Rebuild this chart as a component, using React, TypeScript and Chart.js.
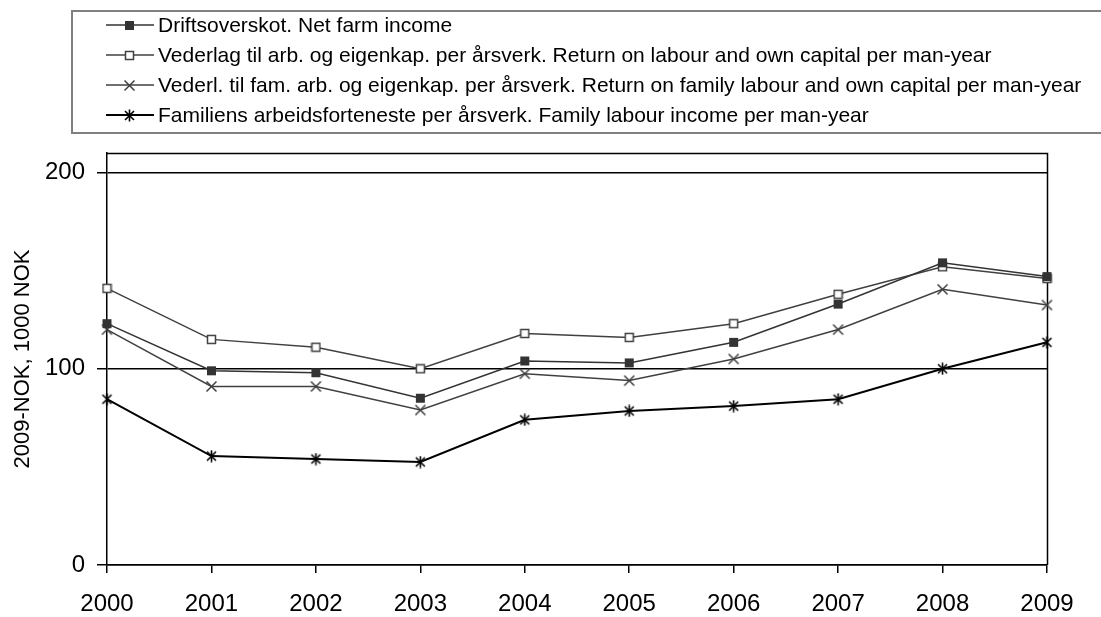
import React, { useEffect, useRef } from "react";
import { Chart, registerables } from "chart.js";

Chart.register(...registerables);

const years = ["2000", "2001", "2002", "2003", "2004", "2005", "2006", "2007", "2008", "2009"];
const netFarmIncome = [123, 99, 98, 85, 104, 103, 113.5, 133, 154, 147];
const returnLabourCapital = [141, 115, 111, 100, 118, 116, 123, 138, 152, 146];
const returnFamilyLabourCapital = [120, 91, 91, 79, 97.5, 94, 105, 120, 140.5, 132.5];
const familyLabourIncome = [84.5, 55.5, 54, 52.5, 74, 78.5, 81, 84.5, 100, 113.5];
const seriesLabels = [
  "Driftsoverskot. Net farm income",
  "Vederlag til arb. og eigenkap. per årsverk. Return on labour and own capital per man-year",
  "Vederl. til fam. arb. og eigenkap. per årsverk. Return on family labour and own capital per man-year",
  "Familiens arbeidsforteneste per årsverk. Family labour income per man-year",
];
const yTicks = [0, 100, 200];
const yTitle = "2009-NOK, 1000 NOK";

const FONT = "'Liberation Sans', Arial, sans-serif";

function makeMarker(kind: string): HTMLCanvasElement {
  const c = document.createElement("canvas");
  const s = kind === "filled" ? 11 : kind === "open" ? 11 : 13;
  c.width = s;
  c.height = s;
  const g = c.getContext("2d")!;
  if (kind === "filled") {
    g.fillStyle = "#333333";
    g.fillRect(1, 1, 9, 9);
  } else if (kind === "open") {
    g.fillStyle = "#ffffff";
    g.fillRect(1.5, 1.5, 8, 8);
    g.strokeStyle = "#404040";
    g.lineWidth = 1.5;
    g.strokeRect(1.5, 1.5, 8, 8);
  } else if (kind === "cross") {
    g.strokeStyle = "#404040";
    g.lineWidth = 1.5;
    g.beginPath();
    g.moveTo(1.5, 1.5);
    g.lineTo(11.5, 11.5);
    g.moveTo(11.5, 1.5);
    g.lineTo(1.5, 11.5);
    g.stroke();
  } else {
    g.strokeStyle = "#000000";
    g.lineWidth = 1.6;
    g.beginPath();
    g.moveTo(2, 2);
    g.lineTo(11, 11);
    g.moveTo(11, 2);
    g.lineTo(2, 11);
    g.moveTo(6.5, 0.5);
    g.lineTo(6.5, 12.5);
    g.stroke();
  }
  return c;
}

export default function App() {
  const ref = useRef<HTMLCanvasElement | null>(null);

  useEffect(() => {
    if (!ref.current) return;
    const markers = [makeMarker("filled"), makeMarker("open"), makeMarker("cross"), makeMarker("star")];
    const lineColors = ["#333333", "#404040", "#404040", "#000000"];
    const lineWidths = [1.5, 1.5, 1.5, 2];
    const values = [netFarmIncome, returnLabourCapital, returnFamilyLabourCapital, familyLabourIncome];

    const legendPlugin = {
      id: "customLegend",
      afterDraw(chart: any) {
        const ctx = chart.ctx as CanvasRenderingContext2D;
        ctx.save();
        ctx.strokeStyle = "#808080";
        ctx.lineWidth = 2;
        ctx.strokeRect(72, 11, 1060, 122);
        chart.data.datasets.forEach((ds: any, i: number) => {
          const y = 25 + i * 30;
          ctx.strokeStyle = ds.borderColor;
          ctx.lineWidth = ds.borderWidth;
          ctx.beginPath();
          ctx.moveTo(106, y);
          ctx.lineTo(154, y);
          ctx.stroke();
          const m = ds.pointStyle as HTMLCanvasElement;
          ctx.drawImage(m, Math.round(129 - m.width / 2), Math.round(y - m.height / 2));
          ctx.fillStyle = "#000000";
          ctx.font = `21px ${FONT}`;
          ctx.textBaseline = "middle";
          ctx.textAlign = "left";
          ctx.fillText(ds.label, 158, y + 1);
        });
        ctx.restore();
      },
    };

    const borderPlugin = {
      id: "plotBorder",
      beforeDatasetsDraw(chart: any) {
        const { ctx, chartArea } = chart;
        ctx.save();
        ctx.strokeStyle = "#000000";
        ctx.lineWidth = 1.5;
        ctx.beginPath();
        ctx.moveTo(chartArea.left, Math.round(chartArea.top) + 0.5);
        ctx.lineTo(Math.round(chartArea.right) + 0.5, Math.round(chartArea.top) + 0.5);
        ctx.lineTo(Math.round(chartArea.right) + 0.5, chartArea.bottom);
        ctx.stroke();
        ctx.restore();
      },
    };

    const chart = new Chart(ref.current, {
      type: "line",
      data: {
        labels: years,
        datasets: values.map((v, i) => ({
          label: seriesLabels[i],
          data: v,
          borderColor: lineColors[i],
          backgroundColor: lineColors[i],
          borderWidth: lineWidths[i],
          pointStyle: markers[i] as any,
          pointRadius: 6,
          pointHoverRadius: 6,
          tension: 0,
          fill: false,
          clip: false as any,
        })),
      },
      options: {
        animation: false,
        responsive: false,
        devicePixelRatio: 1,
        layout: { padding: { top: 153, right: 54, left: 0, bottom: 0 } },
        plugins: {
          legend: { display: false },
          title: { display: false },
          tooltip: { enabled: false },
        },
        scales: {
          x: {
            type: "category",
            offset: false,
            grid: {
              drawOnChartArea: false,
              drawTicks: true,
              tickLength: 8,
              color: "#000000",
              lineWidth: 1.5,
            },
            border: { display: true, color: "#000000", width: 1.5 },
            ticks: {
              color: "#000000",
              font: { family: FONT, size: 24 },
              padding: 17,
              maxRotation: 0,
              autoSkip: false,
            },
            afterFit(scale: any) {
              scale.height = 52;
            },
          },
          y: {
            type: "linear",
            min: 0,
            max: 210,
            grid: {
              color: "#000000",
              lineWidth: 1.5,
              drawTicks: true,
              tickLength: 10,
            },
            border: { display: true, color: "#000000", width: 1.5 },
            afterBuildTicks(scale: any) {
              scale.ticks = yTicks.map((v) => ({ value: v }));
            },
            ticks: {
              color: "#000000",
              font: { family: FONT, size: 24 },
              padding: 12,
            },
            title: {
              display: true,
              text: yTitle,
              color: "#000000",
              font: { family: FONT, size: 22 },
              padding: { top: 10, bottom: 0 },
            },
            afterFit(scale: any) {
              scale.width = 107;
            },
          },
        },
      },
      plugins: [legendPlugin, borderPlugin],
    });
    return () => chart.destroy();
  }, []);

  return (
    <div style={{ position: "absolute", left: 0, top: 0, width: 1101, height: 617, background: "#ffffff" }}>
      <canvas ref={ref} width={1101} height={617} style={{ display: "block" }} />
    </div>
  );
}
